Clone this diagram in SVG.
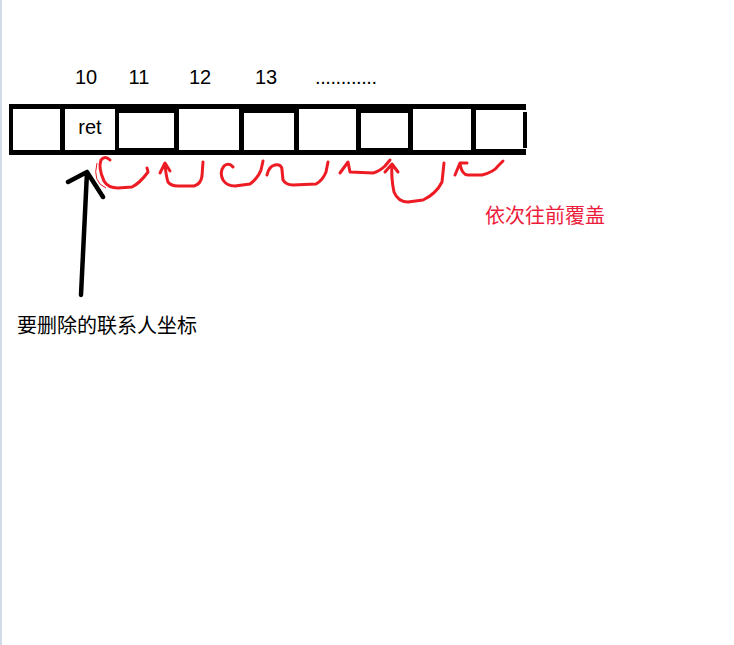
<svg xmlns="http://www.w3.org/2000/svg" width="734" height="645" viewBox="0 0 734 645">
<style>
.lbl{font-family:"Liberation Sans","Noto Sans CJK SC",sans-serif;font-size:20px;fill:#000}
.cjk{font-family:"Noto Sans CJK SC","Liberation Sans",sans-serif;font-size:20px}
.cell{fill:#fff}
.red{fill:none;stroke:#ed1c24;stroke-width:3;stroke-linecap:round;stroke-linejoin:round}
</style>
<rect x="0" y="0" width="734" height="645" fill="#fff"/>
<rect x="0" y="0" width="2" height="645" fill="#d4dbe8"/>
<g id="array">
<rect x="9" y="104" width="517" height="51" fill="#000"/>
<rect class="cell" x="13" y="109" width="47" height="41"/>
<rect class="cell" x="65" y="109" width="50" height="41"/>
<rect class="cell" x="119" y="113" width="55" height="35"/>
<rect class="cell" x="179" y="109" width="60" height="41"/>
<rect class="cell" x="244" y="113" width="50" height="37"/>
<rect class="cell" x="299" y="109" width="57" height="41"/>
<rect class="cell" x="361" y="113" width="47" height="35"/>
<rect class="cell" x="413" y="109" width="58" height="41"/>
<rect class="cell" x="476" y="110" width="51" height="39"/>
<rect x="523" y="112" width="4" height="36" fill="#000"/>
<text class="lbl" x="90" y="134" text-anchor="middle" font-size="19">ret</text>
</g>
<g id="indices">
<text class="lbl" x="86" y="84" text-anchor="middle">10</text>
<text class="lbl" x="139" y="84" text-anchor="middle">11</text>
<text class="lbl" x="200" y="84" text-anchor="middle">12</text>
<text class="lbl" x="266" y="84" text-anchor="middle">13</text>
<text class="lbl" x="315" y="84" textLength="62" lengthAdjust="spacing">............</text>
</g>
<g id="label-delete">
<text class="cjk" x="17" y="333" fill="#000">要删除的联系人坐标</text>
</g>
<g id="label-cover">
<text class="cjk" x="485" y="223" fill="#ed1c3c">依次往前覆盖</text>
</g>
<g id="connectors">
<path d="M81 295 L87 172 M68 182 L87 172 L103 197" fill="none" stroke="#000" stroke-width="4.5" stroke-linecap="round" stroke-linejoin="round"/>
<path d="M97 163 Q92 182 106 188" fill="none" stroke="#ed1c24" stroke-width="1"/>
<path class="red" d="M110 160 Q105 155 101 160 Q98 168 104 181 Q108 188 118 188 L132 187 Q140 183 148 172 L147 168"/>
<path class="red" d="M160 173 L165 163 L170 171 M165 164 Q166 176 168 182 Q171 186 178 186 L194 186 Q201 184 202 176 L203 162"/>
<path class="red" d="M233 167 Q229 162 224 166 Q219 172 223 180 Q227 186 235 186 L250 184 Q258 178 261 170 L263 161"/>
<path class="red" d="M267 175 Q269 166 275 165 Q282 164 282 170 L283 180 Q286 185 293 185 L316 184 Q323 180 326 172 L328 162"/>
<path class="red" d="M340 173 L348 162 L350 172 L373 173 Q380 171 385 166 L390 160"/>
<path class="red" d="M385 172 L392 164 L398 172 M392 165 Q391 178 394 192 Q398 202 408 202 L423 200 Q436 194 442 182 L444 163"/>
<path class="red" d="M455 175 L460 163 L467 163 M460 164 Q462 175 468 175 L482 175 Q494 172 498 166 L503 161"/>
</g>
</svg>
